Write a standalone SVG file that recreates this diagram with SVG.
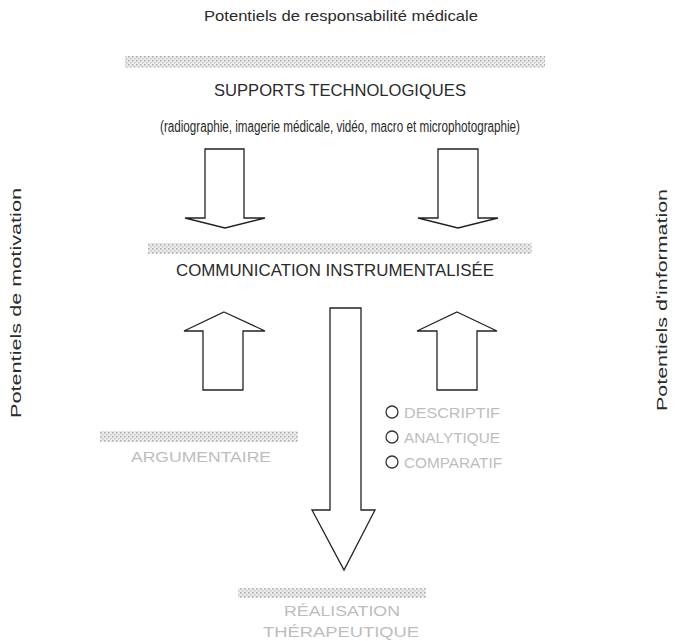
<svg xmlns="http://www.w3.org/2000/svg" width="676" height="641" viewBox="0 0 676 641">
<style>
text{font-family:"Liberation Sans",Arial,sans-serif;fill:#2a2a2a}
.t{font-size:15px}
.p{font-size:16px}
.v{font-size:14px}
.h{font-size:17px}
.g{font-size:15px;fill:#bdbdbd}
.band{fill:url(#dots)}
.arr{fill:#fff;stroke:#222;stroke-width:1.3;stroke-linejoin:miter}
.c{fill:#fff;stroke:#333;stroke-width:1.3}
</style>
<defs>
<pattern id="dots" width="4" height="4" patternUnits="userSpaceOnUse">
<rect width="4" height="4" fill="#ececec"/>
<rect x="0" y="0" width="1.5" height="1.5" fill="#a8a8a8"/>
<rect x="2" y="2" width="1.5" height="1.5" fill="#c4c4c4"/>
</pattern>
</defs>
<rect width="676" height="641" fill="#fff"/>
<g id="title"><text class="t" x="341" y="21" text-anchor="middle" textLength="274" lengthAdjust="spacingAndGlyphs">Potentiels de responsabilité médicale</text></g>
<g id="left-label"><text class="v" transform="translate(21,303) rotate(-90)" text-anchor="middle" textLength="230" lengthAdjust="spacingAndGlyphs">Potentiels de motivation</text></g>
<g id="right-label"><text class="v" transform="translate(667,300) rotate(-90)" text-anchor="middle" textLength="222" lengthAdjust="spacingAndGlyphs">Potentiels d'information</text></g>
<g id="supports">
<rect class="band" x="125" y="56" width="420" height="12"/>
<text class="h" x="340" y="96" text-anchor="middle" textLength="252" lengthAdjust="spacingAndGlyphs">SUPPORTS TECHNOLOGIQUES</text>
<text class="p" x="340" y="132" text-anchor="middle" textLength="360" lengthAdjust="spacingAndGlyphs">(radiographie, imagerie médicale, vidéo, macro et microphotographie)</text>
</g>
<g id="communication">
<rect class="band" x="148" y="243" width="384" height="11"/>
<text class="h" x="335" y="276" text-anchor="middle" textLength="318" lengthAdjust="spacingAndGlyphs">COMMUNICATION INSTRUMENTALISÉE</text>
</g>
<g id="argumentaire">
<rect class="band" x="100" y="431" width="198" height="11"/>
<text class="g" x="201" y="462" text-anchor="middle" textLength="140" lengthAdjust="spacingAndGlyphs">ARGUMENTAIRE</text>
</g>
<g id="modes">
<circle class="c" cx="392" cy="412" r="6"/>
<text class="g" x="404" y="418" textLength="96" lengthAdjust="spacingAndGlyphs">DESCRIPTIF</text>
<circle class="c" cx="392" cy="437" r="6"/>
<text class="g" x="404" y="443" textLength="96" lengthAdjust="spacingAndGlyphs">ANALYTIQUE</text>
<circle class="c" cx="392" cy="462" r="6"/>
<text class="g" x="404" y="468" textLength="98" lengthAdjust="spacingAndGlyphs">COMPARATIF</text>
</g>
<g id="realisation">
<rect class="band" x="238" y="588" width="188" height="10"/>
<text class="g" x="342" y="616" text-anchor="middle" textLength="116" lengthAdjust="spacingAndGlyphs">RÉALISATION</text>
<text class="g" x="341" y="637" text-anchor="middle" textLength="156" lengthAdjust="spacingAndGlyphs">THÉRAPEUTIQUE</text>
</g>
<g id="connectors">
<polygon class="arr" points="205,149 244,149 244,218 265,218 225,228 185,218 205,218"/>
<polygon class="arr" points="438,149 478,149 478,218 498,218 458,228 418,218 438,218"/>
<polygon class="arr" points="224,312 265,331 243,331 243,390 203,390 203,331 184,331"/>
<polygon class="arr" points="457,312 497,331 477,331 477,390 437,390 437,331 417,331"/>
<polygon class="arr" points="330,308 361,308 361,510 375,510 344,570 312,510 330,510"/>
</g>
</svg>
